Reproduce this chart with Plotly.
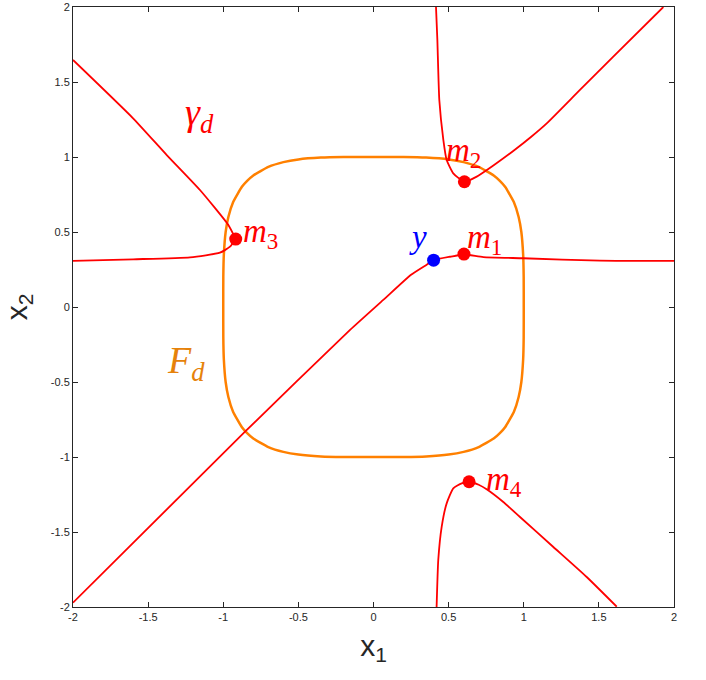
import plotly.graph_objects as go

# orange level set F_d (counter-clockwise from (1, 0))
F_X = [1.000, 0.9996, 0.996, 0.984, 0.966, 0.934, 0.877, 0.841, 0.800, 0.700, 0.600, 0.500, 0.350, 0.200, 0.000,
       -0.200, -0.350, -0.500, -0.600, -0.700, -0.800, -0.841, -0.877, -0.934, -0.966, -0.984, -0.996, -0.9996, -1.000,
       -0.9996, -0.996, -0.984, -0.966, -0.934, -0.877, -0.841, -0.800, -0.700, -0.600, -0.500, -0.350, -0.200, 0.000,
       0.200, 0.350, 0.500, 0.600, 0.700, 0.800, 0.841, 0.877, 0.934, 0.966, 0.984, 0.996, 0.9996, 1.000]
F_Y = [0.000, 0.200, 0.350, 0.500, 0.600, 0.700, 0.800, 0.841, 0.877, 0.934, 0.966, 0.984, 0.996, 0.9996, 1.000,
       0.9996, 0.996, 0.984, 0.966, 0.934, 0.877, 0.841, 0.800, 0.700, 0.600, 0.500, 0.350, 0.200, 0.000,
       -0.200, -0.350, -0.500, -0.600, -0.700, -0.800, -0.841, -0.877, -0.934, -0.966, -0.984, -0.996, -0.9996, -1.000,
       -0.9996, -0.996, -0.984, -0.966, -0.934, -0.877, -0.841, -0.800, -0.700, -0.600, -0.500, -0.350, -0.200, 0.000]

# red curves gamma_d
G3A_X = [-2.0, -1.6, -1.376, -1.155, -0.966, -0.917]
G3A_Y = [1.647, 1.258, 1.013, 0.780, 0.547, 0.453]
G3B_X = [-0.917, -0.955, -1.022, -1.221, -1.6, -2.0]
G3B_Y = [0.453, 0.402, 0.362, 0.331, 0.318, 0.307]
G1_X = [-2.0, -0.855, -0.156, 0.065, 0.250, 0.354, 0.400, 0.509, 0.602, 0.731, 0.997, 1.507, 2.0]
G1_Y = [-1.971, -0.831, -0.153, 0.047, 0.215, 0.282, 0.312, 0.335, 0.350, 0.333, 0.325, 0.309, 0.307]
G2_X = [0.416, 0.425, 0.438, 0.465, 0.487, 0.531, 0.605, 0.687, 0.800, 0.930, 1.050, 1.153, 1.374, 1.596, 1.929]
G2_Y = [2.0, 1.78, 1.38, 1.113, 0.980, 0.891, 0.835, 0.869, 0.945, 1.040, 1.135, 1.224, 1.447, 1.669, 2.0]
G4_X = [0.420, 0.431, 0.454, 0.487, 0.531, 0.587, 0.636, 0.700, 0.753, 0.864, 0.975, 1.197, 1.419, 1.619]
G4_Y = [-2.0, -1.687, -1.464, -1.309, -1.209, -1.176, -1.165, -1.185, -1.215, -1.300, -1.400, -1.600, -1.800, -1.998]

# minima m1..m4 and the point y
M_X = [0.602, 0.605, -0.917, 0.636]
M_Y = [0.353, 0.835, 0.453, -1.165]
Y_PT = [0.400, 0.312]

TICKS = [-2, -1.5, -1, -0.5, 0, 0.5, 1, 1.5, 2]
TICK_TEXT = ["-2", "-1.5", "-1", "-0.5", "0", "0.5", "1", "1.5", "2"]

RED = "#FF0000"
ORANGE = "#FF8000"
SERIF = "Liberation Serif"

fig = go.Figure()
fig.add_trace(go.Scatter(x=F_X, y=F_Y, mode="lines", line=dict(color=ORANGE, width=2.5, shape="spline", smoothing=0.4)))
for xs, ys in [(G3A_X, G3A_Y), (G3B_X, G3B_Y), (G1_X, G1_Y), (G2_X, G2_Y), (G4_X, G4_Y)]:
    fig.add_trace(go.Scatter(x=xs, y=ys, mode="lines",
                             line=dict(color=RED, width=1.8, shape="spline", smoothing=0.5)))
fig.add_trace(go.Scatter(x=M_X, y=M_Y, mode="markers", marker=dict(color=RED, size=13)))
fig.add_trace(go.Scatter(x=[Y_PT[0]], y=[Y_PT[1]], mode="markers", marker=dict(color="#0000FF", size=13)))

labels = [
    ("<i>γ</i><sub><i>d</i></sub>", -1.155, 1.28, "center", RED, 38),
    ("<i>m</i><sub>3</sub>", -0.885, 0.49, "left", RED, 33),
    ("<i>m</i><sub>2</sub>", 0.47, 1.03, "left", RED, 33),
    ("<i>m</i><sub>1</sub>", 0.61, 0.45, "left", RED, 33),
    ("<i>m</i><sub>4</sub>", 0.735, -1.165, "left", RED, 33),
    ("<i>y</i>", 0.296, 0.47, "center", "#0000FF", 33),
    ("<i>F</i><sub><i>d</i></sub>", -1.245, -0.37, "center", "#E6820A", 38),
]
for text, x, y, anchor, color, size in labels:
    fig.add_annotation(x=x, y=y, text=text, showarrow=False, xanchor=anchor, yanchor="middle",
                       font=dict(family=SERIF, size=size, color=color))

axis = dict(range=[-2, 2], tickvals=TICKS, ticktext=TICK_TEXT, ticks="inside", ticklen=5,
            tickcolor="#262626", showline=True, linecolor="#262626", linewidth=1, mirror="ticks",
            showgrid=False, zeroline=False, automargin=False,
            tickfont=dict(family="Liberation Sans", size=11, color="#262626"))
fig.update_layout(
    width=706, height=680, showlegend=False,
    margin=dict(l=73, r=32, t=7, b=73),
    paper_bgcolor="white", plot_bgcolor="white",
    xaxis=dict(axis, title=dict(text="x<sub>1</sub>", font=dict(family="Liberation Sans", size=30, color="#262626"), standoff=12)),
    yaxis=dict(axis, title=dict(text="x<sub>2</sub>", font=dict(family="Liberation Sans", size=30, color="#262626"), standoff=14)),
)
fig.write_html("out.html", config={"displayModeBar": False},
               post_script="document.body.style.margin='0';")
